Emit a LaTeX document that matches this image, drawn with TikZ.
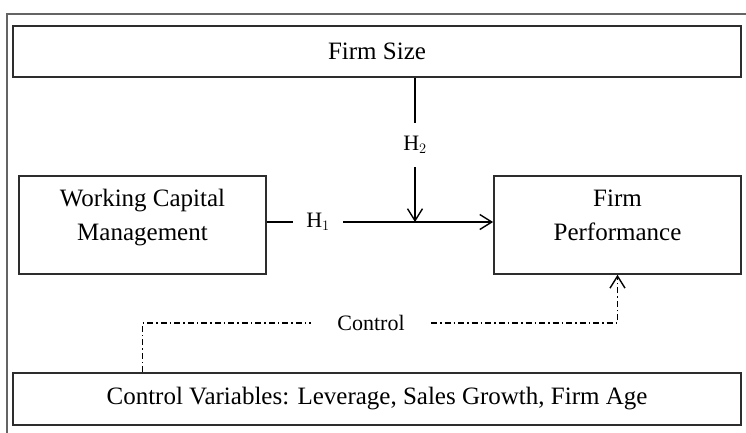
\documentclass[tikz,border=0pt]{standalone}
\usepackage{fontspec}
\setmainfont{Liberation Serif}
\usetikzlibrary{positioning, arrows.meta, calc}
\definecolor{myframe}{RGB}{100,100,100}
\definecolor{myboxline}{RGB}{45,45,45}
\tikzset{
  varbox/.style = {rectangle, draw = myboxline, line width = 1.8pt, inner sep = 0pt,
                   align = center, font = \fontsize{25}{34}\selectfont},
  widebox/.style = {varbox, minimum width = 728pt},
  sidebox/.style = {varbox, minimum width = 247pt, text height = 65pt, text depth = 33pt},
  hyplabel/.style = {inner sep = 0pt, font = \fontsize{22}{26}\selectfont}
}

\begin{document}
\begin{tikzpicture}[
    x=1pt, y=-1pt,
    link/.style={line width=1.4pt, draw=black},
    ctrlline/.style={line width=1.2pt, draw=black,
                     dash pattern=on 6pt off 3pt on 1.5pt off 3pt},
    >={Straight Barb[length=12pt, width=15pt, line width=1.4pt]}
    ]
\useasboundingbox (0,0) rectangle (746,432);
\draw[myframe, line width=1.8pt] (7,14) rectangle (770,460);

%moderator on top
\node[widebox, minimum height=51pt] (size) at (377,51.5) {Firm Size};
%independent and dependent variable
\node[sidebox] (wcm) at (142.5,175) [anchor=north] {Working Capital\\Management};
\node[sidebox] (perf) at (617.5,175) [anchor=north] {Firm\\Performance};
%controls at the bottom
\node[widebox, minimum height=52pt] (ctrlvars) at (377,399) {Control Variables: Leverage, Sales Growth, Firm Age};

%hypotheses
\node[hyplabel, minimum width=50pt, minimum height=20pt] (h1) at (318,222) {H$_1$};
\node[hyplabel, minimum height=44pt] (h2) at (415,145) {H$_2$};
\coordinate (meet) at (h2 |- h1);

\draw[link] (wcm.east |- h1) -- (h1.west);
\draw[link, ->] (h1.east) -- (perf.west |- h1);
\draw[link] (size.south -| h2) -- (h2.north);
\draw[link, ->] (h2.south) -- (meet);

%control path
\node[hyplabel, minimum width=120pt] (ctrl) at (371,323) {Control};
\draw[ctrlline] (ctrlvars.north -| wcm) -- (wcm |- ctrl) -- (ctrl.west);
\draw[ctrlline, ->] (ctrl.east) -- (perf |- ctrl) -- (perf.south);
\end{tikzpicture}
\end{document}
